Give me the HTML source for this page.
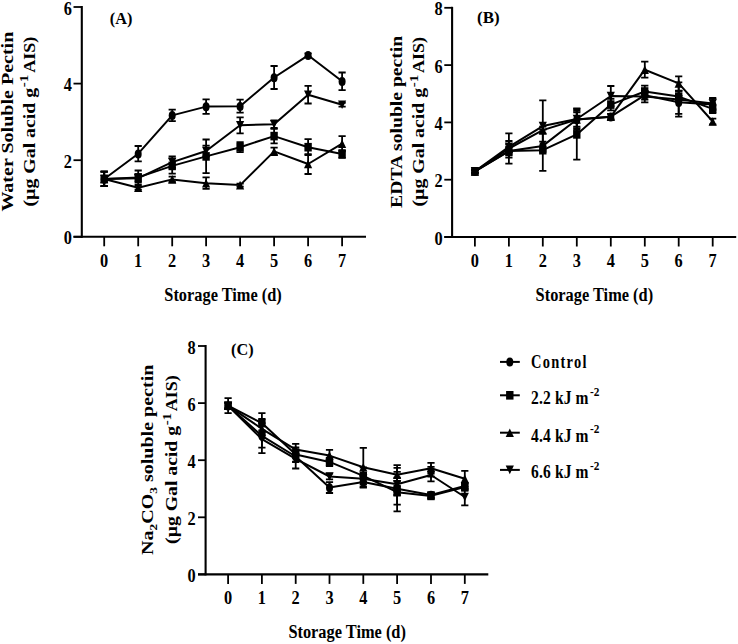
<!DOCTYPE html><html><head><meta charset="utf-8"><style>html,body{margin:0;padding:0;background:#fff;}svg{display:block}</style></head><body>
<svg width="738" height="644" viewBox="0 0 738 644" font-family='"Liberation Serif", serif' font-weight="bold">
<rect width="738" height="644" fill="#fff"/>
<g stroke="#000" stroke-width="2.1" fill="none" stroke-linecap="butt">
<path d="M81.8,6.0 V237.8"/>
<path d="M73.5,236.8 H366.0"/>
<path d="M73.5,236.8 H81.8" stroke-width="1.8"/>
<path d="M73.5,160.2 H81.8" stroke-width="1.8"/>
<path d="M73.5,83.6 H81.8" stroke-width="1.8"/>
<path d="M73.5,7.0 H81.8" stroke-width="1.8"/>
<path d="M104.2,236.8 V246.3" stroke-width="1.8"/>
<path d="M138.2,236.8 V246.3" stroke-width="1.8"/>
<path d="M172.2,236.8 V246.3" stroke-width="1.8"/>
<path d="M206.1,236.8 V246.3" stroke-width="1.8"/>
<path d="M240.1,236.8 V246.3" stroke-width="1.8"/>
<path d="M274.1,236.8 V246.3" stroke-width="1.8"/>
<path d="M308.1,236.8 V246.3" stroke-width="1.8"/>
<path d="M342.1,236.8 V246.3" stroke-width="1.8"/>
</g>
<g stroke="#000" stroke-width="2" fill="none" stroke-linejoin="round">
<polyline points="104.2,179.0 138.2,177.4 172.2,165.9 206.1,156.4 240.1,147.2 274.1,136.1 308.1,147.2 342.1,154.1"/>
<polyline points="104.2,179.0 138.2,178.2 172.2,162.1 206.1,151.0 240.1,125.3 274.1,124.2 308.1,94.7 342.1,104.7"/>
<polyline points="104.2,179.0 138.2,187.8 172.2,179.4 206.1,183.2 240.1,185.1 274.1,151.4 308.1,164.0 342.1,143.7"/>
<polyline points="104.2,179.0 138.2,153.7 172.2,115.4 206.1,106.6 240.1,106.2 274.1,77.5 308.1,55.3 342.1,81.3"/>
</g>
<g stroke="#000" stroke-width="1.8" fill="none">
<path d="M104.2,171.7 V186.2 M100.6,171.7 H107.8 M100.6,186.2 H107.8"/>
<path d="M138.2,170.5 V184.3 M134.6,170.5 H141.8 M134.6,184.3 H141.8"/>
<path d="M172.2,158.3 V173.6 M168.6,158.3 H175.8 M168.6,173.6 H175.8"/>
<path d="M206.1,139.5 V173.2 M202.5,139.5 H209.7 M202.5,173.2 H209.7"/>
<path d="M240.1,142.2 V152.2 M236.5,142.2 H243.7 M236.5,152.2 H243.7"/>
<path d="M274.1,128.8 V143.3 M270.5,128.8 H277.7 M270.5,143.3 H277.7"/>
<path d="M308.1,139.1 V155.2 M304.5,139.1 H311.7 M304.5,155.2 H311.7"/>
<path d="M342.1,150.2 V157.9 M338.5,150.2 H345.7 M338.5,157.9 H345.7"/>
<path d="M104.2,171.7 V186.2 M100.6,171.7 H107.8 M100.6,186.2 H107.8"/>
<path d="M138.2,174.4 V182.0 M134.6,174.4 H141.8 M134.6,182.0 H141.8"/>
<path d="M172.2,156.4 V167.9 M168.6,156.4 H175.8 M168.6,167.9 H175.8"/>
<path d="M206.1,145.6 V156.4 M202.5,145.6 H209.7 M202.5,156.4 H209.7"/>
<path d="M240.1,117.3 V133.4 M236.5,117.3 H243.7 M236.5,133.4 H243.7"/>
<path d="M274.1,120.4 V128.0 M270.5,120.4 H277.7 M270.5,128.0 H277.7"/>
<path d="M308.1,85.9 V103.5 M304.5,85.9 H311.7 M304.5,103.5 H311.7"/>
<path d="M342.1,102.8 V106.6 M338.5,102.8 H345.7 M338.5,106.6 H345.7"/>
<path d="M104.2,171.7 V186.2 M100.6,171.7 H107.8 M100.6,186.2 H107.8"/>
<path d="M138.2,185.9 V189.7 M134.6,185.9 H141.8 M134.6,189.7 H141.8"/>
<path d="M172.2,176.7 V182.0 M168.6,176.7 H175.8 M168.6,182.0 H175.8"/>
<path d="M206.1,177.4 V188.9 M202.5,177.4 H209.7 M202.5,188.9 H209.7"/>
<path d="M240.1,183.6 V186.6 M236.5,183.6 H243.7 M236.5,186.6 H243.7"/>
<path d="M274.1,147.6 V155.2 M270.5,147.6 H277.7 M270.5,155.2 H277.7"/>
<path d="M308.1,154.1 V174.0 M304.5,154.1 H311.7 M304.5,174.0 H311.7"/>
<path d="M342.1,136.1 V151.4 M338.5,136.1 H345.7 M338.5,151.4 H345.7"/>
<path d="M104.2,171.7 V186.2 M100.6,171.7 H107.8 M100.6,186.2 H107.8"/>
<path d="M138.2,146.0 V161.3 M134.6,146.0 H141.8 M134.6,161.3 H141.8"/>
<path d="M172.2,109.6 V121.1 M168.6,109.6 H175.8 M168.6,121.1 H175.8"/>
<path d="M206.1,99.3 V113.9 M202.5,99.3 H209.7 M202.5,113.9 H209.7"/>
<path d="M240.1,99.7 V112.7 M236.5,99.7 H243.7 M236.5,112.7 H243.7"/>
<path d="M274.1,66.0 V89.0 M270.5,66.0 H277.7 M270.5,89.0 H277.7"/>
<path d="M308.1,53.3 V57.2 M304.5,53.3 H311.7 M304.5,57.2 H311.7"/>
<path d="M342.1,72.5 V90.1 M338.5,72.5 H345.7 M338.5,90.1 H345.7"/>
</g>
<g fill="#000">
<rect x="100.5" y="174.7" width="7.4" height="8.6"/>
<rect x="134.5" y="173.1" width="7.4" height="8.6"/>
<rect x="168.5" y="161.6" width="7.4" height="8.6"/>
<rect x="202.4" y="152.1" width="7.4" height="8.6"/>
<rect x="236.4" y="142.9" width="7.4" height="8.6"/>
<rect x="270.4" y="131.8" width="7.4" height="8.6"/>
<rect x="304.4" y="142.9" width="7.4" height="8.6"/>
<rect x="338.4" y="149.8" width="7.4" height="8.6"/>
<path d="M104.2,183.3 L108.3,174.7 L100.1,174.7Z"/>
<path d="M138.2,182.5 L142.3,173.9 L134.1,173.9Z"/>
<path d="M172.2,166.4 L176.3,157.8 L168.1,157.8Z"/>
<path d="M206.1,155.3 L210.2,146.7 L202.0,146.7Z"/>
<path d="M240.1,129.6 L244.2,121.0 L236.0,121.0Z"/>
<path d="M274.1,128.5 L278.2,119.9 L270.0,119.9Z"/>
<path d="M308.1,99.0 L312.2,90.4 L304.0,90.4Z"/>
<path d="M342.1,109.0 L346.2,100.4 L338.0,100.4Z"/>
<path d="M104.2,174.7 L108.3,183.3 L100.1,183.3Z"/>
<path d="M138.2,183.5 L142.3,192.1 L134.1,192.1Z"/>
<path d="M172.2,175.1 L176.3,183.7 L168.1,183.7Z"/>
<path d="M206.1,178.9 L210.2,187.5 L202.0,187.5Z"/>
<path d="M240.1,180.8 L244.2,189.4 L236.0,189.4Z"/>
<path d="M274.1,147.1 L278.2,155.7 L270.0,155.7Z"/>
<path d="M308.1,159.7 L312.2,168.3 L304.0,168.3Z"/>
<path d="M342.1,139.4 L346.2,148.0 L338.0,148.0Z"/>
<ellipse cx="104.2" cy="179.2" rx="3.5" ry="4.5"/>
<ellipse cx="138.2" cy="153.9" rx="3.5" ry="4.5"/>
<ellipse cx="172.2" cy="115.6" rx="3.5" ry="4.5"/>
<ellipse cx="206.1" cy="106.8" rx="3.5" ry="4.5"/>
<ellipse cx="240.1" cy="106.4" rx="3.5" ry="4.5"/>
<ellipse cx="274.1" cy="77.7" rx="3.5" ry="4.5"/>
<ellipse cx="308.1" cy="55.5" rx="3.5" ry="4.5"/>
<ellipse cx="342.1" cy="81.5" rx="3.5" ry="4.5"/>
</g>
<g font-size="19" text-anchor="middle">
<text transform="translate(104.2,266.5) scale(0.86,1)">0</text>
<text transform="translate(138.2,266.5) scale(0.86,1)">1</text>
<text transform="translate(172.2,266.5) scale(0.86,1)">2</text>
<text transform="translate(206.1,266.5) scale(0.86,1)">3</text>
<text transform="translate(240.1,266.5) scale(0.86,1)">4</text>
<text transform="translate(274.1,266.5) scale(0.86,1)">5</text>
<text transform="translate(308.1,266.5) scale(0.86,1)">6</text>
<text transform="translate(342.1,266.5) scale(0.86,1)">7</text>
</g>
<g font-size="19" text-anchor="end">
<text transform="translate(71.8,244.4) scale(0.86,1)">0</text>
<text transform="translate(71.8,167.8) scale(0.86,1)">2</text>
<text transform="translate(71.8,91.2) scale(0.86,1)">4</text>
<text transform="translate(71.8,14.6) scale(0.86,1)">6</text>
</g>
<g stroke="#000" stroke-width="2.1" fill="none" stroke-linecap="butt">
<path d="M452.1,6.8 V238.0"/>
<path d="M444.3,237.0 H736.2"/>
<path d="M444.3,237.0 H452.1" stroke-width="1.8"/>
<path d="M444.3,179.7 H452.1" stroke-width="1.8"/>
<path d="M444.3,122.4 H452.1" stroke-width="1.8"/>
<path d="M444.3,65.1 H452.1" stroke-width="1.8"/>
<path d="M444.3,7.8 H452.1" stroke-width="1.8"/>
<path d="M474.9,237.0 V246.5" stroke-width="1.8"/>
<path d="M508.9,237.0 V246.5" stroke-width="1.8"/>
<path d="M542.8,237.0 V246.5" stroke-width="1.8"/>
<path d="M576.8,237.0 V246.5" stroke-width="1.8"/>
<path d="M610.8,237.0 V246.5" stroke-width="1.8"/>
<path d="M644.8,237.0 V246.5" stroke-width="1.8"/>
<path d="M678.7,237.0 V246.5" stroke-width="1.8"/>
<path d="M712.7,237.0 V246.5" stroke-width="1.8"/>
</g>
<g stroke="#000" stroke-width="2" fill="none" stroke-linejoin="round">
<polyline points="474.9,171.4 508.9,151.1 542.8,145.9 576.8,119.5 610.8,116.7 644.8,95.2 678.7,102.3 712.7,104.6"/>
<polyline points="474.9,171.4 508.9,151.1 542.8,150.2 576.8,134.4 610.8,104.6 644.8,91.5 678.7,96.6 712.7,108.9"/>
<polyline points="474.9,171.4 508.9,148.5 542.8,130.1 576.8,119.5 610.8,116.7 644.8,69.7 678.7,83.4 712.7,121.5"/>
<polyline points="474.9,171.4 508.9,146.8 542.8,126.1 576.8,119.0 610.8,96.0 644.8,96.6 678.7,99.5 712.7,103.5"/>
</g>
<g stroke="#000" stroke-width="1.8" fill="none">
<path d="M474.9,170.0 V172.8 M471.3,170.0 H478.5 M471.3,172.8 H478.5"/>
<path d="M508.9,146.8 V155.3 M505.3,146.8 H512.5 M505.3,155.3 H512.5"/>
<path d="M542.8,141.6 V150.2 M539.2,141.6 H546.4 M539.2,150.2 H546.4"/>
<path d="M576.8,110.9 V128.1 M573.2,110.9 H580.4 M573.2,128.1 H580.4"/>
<path d="M610.8,113.8 V119.5 M607.2,113.8 H614.4 M607.2,119.5 H614.4"/>
<path d="M644.8,90.9 V99.5 M641.1,90.9 H648.4 M641.1,99.5 H648.4"/>
<path d="M678.7,90.9 V113.8 M675.1,90.9 H682.3 M675.1,113.8 H682.3"/>
<path d="M712.7,98.9 V110.4 M709.1,98.9 H716.3 M709.1,110.4 H716.3"/>
<path d="M474.9,170.0 V172.8 M471.3,170.0 H478.5 M471.3,172.8 H478.5"/>
<path d="M508.9,144.5 V157.6 M505.3,144.5 H512.5 M505.3,157.6 H512.5"/>
<path d="M542.8,129.6 V170.8 M539.2,129.6 H546.4 M539.2,170.8 H546.4"/>
<path d="M576.8,109.2 V159.6 M573.2,109.2 H580.4 M573.2,159.6 H580.4"/>
<path d="M610.8,98.9 V110.4 M607.2,98.9 H614.4 M607.2,110.4 H614.4"/>
<path d="M644.8,85.7 V97.2 M641.1,85.7 H648.4 M641.1,97.2 H648.4"/>
<path d="M678.7,90.9 V102.3 M675.1,90.9 H682.3 M675.1,102.3 H682.3"/>
<path d="M712.7,104.6 V113.2 M709.1,104.6 H716.3 M709.1,113.2 H716.3"/>
<path d="M474.9,170.0 V172.8 M471.3,170.0 H478.5 M471.3,172.8 H478.5"/>
<path d="M508.9,133.3 V163.7 M505.3,133.3 H512.5 M505.3,163.7 H512.5"/>
<path d="M542.8,126.7 V133.6 M539.2,126.7 H546.4 M539.2,133.6 H546.4"/>
<path d="M576.8,112.4 V126.7 M573.2,112.4 H580.4 M573.2,126.7 H580.4"/>
<path d="M610.8,113.8 V119.5 M607.2,113.8 H614.4 M607.2,119.5 H614.4"/>
<path d="M644.8,61.7 V77.7 M641.1,61.7 H648.4 M641.1,77.7 H648.4"/>
<path d="M678.7,76.3 V90.6 M675.1,76.3 H682.3 M675.1,90.6 H682.3"/>
<path d="M712.7,118.7 V124.4 M709.1,118.7 H716.3 M709.1,124.4 H716.3"/>
<path d="M474.9,170.0 V172.8 M471.3,170.0 H478.5 M471.3,172.8 H478.5"/>
<path d="M508.9,141.0 V152.5 M505.3,141.0 H512.5 M505.3,152.5 H512.5"/>
<path d="M542.8,100.3 V151.9 M539.2,100.3 H546.4 M539.2,151.9 H546.4"/>
<path d="M576.8,108.4 V129.6 M573.2,108.4 H580.4 M573.2,129.6 H580.4"/>
<path d="M610.8,86.0 V106.1 M607.2,86.0 H614.4 M607.2,106.1 H614.4"/>
<path d="M644.8,90.9 V102.3 M641.1,90.9 H648.4 M641.1,102.3 H648.4"/>
<path d="M678.7,82.3 V116.7 M675.1,82.3 H682.3 M675.1,116.7 H682.3"/>
<path d="M712.7,97.8 V109.2 M709.1,97.8 H716.3 M709.1,109.2 H716.3"/>
</g>
<g fill="#000">
<ellipse cx="474.9" cy="171.6" rx="3.5" ry="4.5"/>
<ellipse cx="508.9" cy="151.2" rx="3.5" ry="4.5"/>
<ellipse cx="542.8" cy="146.1" rx="3.5" ry="4.5"/>
<ellipse cx="576.8" cy="119.7" rx="3.5" ry="4.5"/>
<ellipse cx="610.8" cy="116.9" rx="3.5" ry="4.5"/>
<ellipse cx="644.8" cy="95.4" rx="3.5" ry="4.5"/>
<ellipse cx="678.7" cy="102.5" rx="3.5" ry="4.5"/>
<ellipse cx="712.7" cy="104.8" rx="3.5" ry="4.5"/>
<rect x="471.2" y="167.1" width="7.4" height="8.6"/>
<rect x="505.2" y="146.8" width="7.4" height="8.6"/>
<rect x="539.1" y="145.9" width="7.4" height="8.6"/>
<rect x="573.1" y="130.1" width="7.4" height="8.6"/>
<rect x="607.1" y="100.3" width="7.4" height="8.6"/>
<rect x="641.0" y="87.2" width="7.4" height="8.6"/>
<rect x="675.0" y="92.3" width="7.4" height="8.6"/>
<rect x="709.0" y="104.6" width="7.4" height="8.6"/>
<path d="M474.9,167.1 L479.0,175.7 L470.8,175.7Z"/>
<path d="M508.9,144.2 L513.0,152.8 L504.8,152.8Z"/>
<path d="M542.8,125.8 L546.9,134.4 L538.7,134.4Z"/>
<path d="M576.8,115.2 L580.9,123.8 L572.7,123.8Z"/>
<path d="M610.8,112.4 L614.9,121.0 L606.7,121.0Z"/>
<path d="M644.8,65.4 L648.9,74.0 L640.6,74.0Z"/>
<path d="M678.7,79.1 L682.8,87.7 L674.6,87.7Z"/>
<path d="M712.7,117.2 L716.8,125.8 L708.6,125.8Z"/>
<path d="M474.9,175.7 L479.0,167.1 L470.8,167.1Z"/>
<path d="M508.9,151.1 L513.0,142.5 L504.8,142.5Z"/>
<path d="M542.8,130.4 L546.9,121.8 L538.7,121.8Z"/>
<path d="M576.8,123.3 L580.9,114.7 L572.7,114.7Z"/>
<path d="M610.8,100.3 L614.9,91.7 L606.7,91.7Z"/>
<path d="M644.8,100.9 L648.9,92.3 L640.6,92.3Z"/>
<path d="M678.7,103.8 L682.8,95.2 L674.6,95.2Z"/>
<path d="M712.7,107.8 L716.8,99.2 L708.6,99.2Z"/>
</g>
<g font-size="19" text-anchor="middle">
<text transform="translate(474.9,266.5) scale(0.86,1)">0</text>
<text transform="translate(508.9,266.5) scale(0.86,1)">1</text>
<text transform="translate(542.8,266.5) scale(0.86,1)">2</text>
<text transform="translate(576.8,266.5) scale(0.86,1)">3</text>
<text transform="translate(610.8,266.5) scale(0.86,1)">4</text>
<text transform="translate(644.8,266.5) scale(0.86,1)">5</text>
<text transform="translate(678.7,266.5) scale(0.86,1)">6</text>
<text transform="translate(712.7,266.5) scale(0.86,1)">7</text>
</g>
<g font-size="19" text-anchor="end">
<text transform="translate(442.6,244.6) scale(0.86,1)">0</text>
<text transform="translate(442.6,187.3) scale(0.86,1)">2</text>
<text transform="translate(442.6,130.0) scale(0.86,1)">4</text>
<text transform="translate(442.6,72.7) scale(0.86,1)">6</text>
<text transform="translate(442.6,15.4) scale(0.86,1)">8</text>
</g>
<g stroke="#000" stroke-width="2.1" fill="none" stroke-linecap="butt">
<path d="M205.6,345.0 V575.4"/>
<path d="M198.0,574.4 H488.3"/>
<path d="M198.0,574.4 H205.6" stroke-width="1.8"/>
<path d="M198.0,517.3 H205.6" stroke-width="1.8"/>
<path d="M198.0,460.2 H205.6" stroke-width="1.8"/>
<path d="M198.0,403.1 H205.6" stroke-width="1.8"/>
<path d="M198.0,346.0 H205.6" stroke-width="1.8"/>
<path d="M228.1,574.4 V583.9" stroke-width="1.8"/>
<path d="M261.9,574.4 V583.9" stroke-width="1.8"/>
<path d="M295.7,574.4 V583.9" stroke-width="1.8"/>
<path d="M329.5,574.4 V583.9" stroke-width="1.8"/>
<path d="M363.3,574.4 V583.9" stroke-width="1.8"/>
<path d="M397.1,574.4 V583.9" stroke-width="1.8"/>
<path d="M431.0,574.4 V583.9" stroke-width="1.8"/>
<path d="M464.8,574.4 V583.9" stroke-width="1.8"/>
</g>
<g stroke="#000" stroke-width="2" fill="none" stroke-linejoin="round">
<polyline points="228.1,405.7 261.9,423.1 295.7,454.5 329.5,461.9 363.3,475.9 397.1,492.2 431.0,495.9 464.8,487.0"/>
<polyline points="228.1,405.7 261.9,428.8 295.7,449.6 329.5,455.6 363.3,467.3 397.1,474.8 431.0,468.2 464.8,478.8"/>
<polyline points="228.1,405.7 261.9,439.1 295.7,458.8 329.5,476.5 363.3,478.8 397.1,484.2 431.0,475.0 464.8,497.0"/>
<polyline points="228.1,405.7 261.9,435.9 295.7,456.5 329.5,487.6 363.3,481.9 397.1,488.8 431.0,495.0 464.8,485.9"/>
</g>
<g stroke="#000" stroke-width="1.8" fill="none">
<path d="M228.1,398.2 V413.1 M224.5,398.2 H231.7 M224.5,413.1 H231.7"/>
<path d="M261.9,413.1 V433.1 M258.3,413.1 H265.5 M258.3,433.1 H265.5"/>
<path d="M295.7,447.4 V461.6 M292.1,447.4 H299.3 M292.1,461.6 H299.3"/>
<path d="M329.5,457.6 V466.2 M325.9,457.6 H333.1 M325.9,466.2 H333.1"/>
<path d="M363.3,467.3 V484.5 M359.7,467.3 H366.9 M359.7,484.5 H366.9"/>
<path d="M397.1,489.3 V495.0 M393.5,489.3 H400.8 M393.5,495.0 H400.8"/>
<path d="M431.0,493.0 V498.7 M427.4,493.0 H434.6 M427.4,498.7 H434.6"/>
<path d="M464.8,483.6 V490.5 M461.2,483.6 H468.4 M461.2,490.5 H468.4"/>
<path d="M228.1,402.8 V408.5 M224.5,402.8 H231.7 M224.5,408.5 H231.7"/>
<path d="M261.9,423.1 V434.5 M258.3,423.1 H265.5 M258.3,434.5 H265.5"/>
<path d="M295.7,443.9 V455.3 M292.1,443.9 H299.3 M292.1,455.3 H299.3"/>
<path d="M329.5,449.9 V461.3 M325.9,449.9 H333.1 M325.9,461.3 H333.1"/>
<path d="M363.3,447.9 V486.8 M359.7,447.9 H366.9 M359.7,486.8 H366.9"/>
<path d="M397.1,471.9 V477.6 M393.5,471.9 H400.8 M393.5,477.6 H400.8"/>
<path d="M431.0,466.8 V469.6 M427.4,466.8 H434.6 M427.4,469.6 H434.6"/>
<path d="M464.8,470.8 V486.8 M461.2,470.8 H468.4 M461.2,486.8 H468.4"/>
<path d="M228.1,402.8 V408.5 M224.5,402.8 H231.7 M224.5,408.5 H231.7"/>
<path d="M261.9,430.5 V447.6 M258.3,430.5 H265.5 M258.3,447.6 H265.5"/>
<path d="M295.7,449.1 V468.5 M292.1,449.1 H299.3 M292.1,468.5 H299.3"/>
<path d="M329.5,473.6 V479.3 M325.9,473.6 H333.1 M325.9,479.3 H333.1"/>
<path d="M363.3,475.9 V481.6 M359.7,475.9 H366.9 M359.7,481.6 H366.9"/>
<path d="M397.1,481.3 V487.0 M393.5,481.3 H400.8 M393.5,487.0 H400.8"/>
<path d="M431.0,473.6 V476.5 M427.4,473.6 H434.6 M427.4,476.5 H434.6"/>
<path d="M464.8,488.8 V505.3 M461.2,488.8 H468.4 M461.2,505.3 H468.4"/>
<path d="M228.1,402.8 V408.5 M224.5,402.8 H231.7 M224.5,408.5 H231.7"/>
<path d="M261.9,418.8 V453.1 M258.3,418.8 H265.5 M258.3,453.1 H265.5"/>
<path d="M295.7,450.8 V462.2 M292.1,450.8 H299.3 M292.1,462.2 H299.3"/>
<path d="M329.5,482.2 V493.0 M325.9,482.2 H333.1 M325.9,493.0 H333.1"/>
<path d="M363.3,476.2 V487.6 M359.7,476.2 H366.9 M359.7,487.6 H366.9"/>
<path d="M397.1,485.9 V491.6 M393.5,485.9 H400.8 M393.5,491.6 H400.8"/>
<path d="M431.0,492.2 V497.9 M427.4,492.2 H434.6 M427.4,497.9 H434.6"/>
<path d="M464.8,483.0 V488.8 M461.2,483.0 H468.4 M461.2,488.8 H468.4"/>
<path d="M397.1,465.1 V511.3 M393.5,465.1 H400.8 M393.5,511.3 H400.8"/>
<path d="M397.1,467.9 V504.7 M393.5,467.9 H400.8 M393.5,504.7 H400.8"/>
<path d="M431.0,462.8 V481.3 M427.4,462.8 H434.6 M427.4,481.3 H434.6"/>
</g>
<g fill="#000">
<rect x="224.4" y="401.4" width="7.4" height="8.6"/>
<rect x="258.2" y="418.8" width="7.4" height="8.6"/>
<rect x="292.0" y="450.2" width="7.4" height="8.6"/>
<rect x="325.8" y="457.6" width="7.4" height="8.6"/>
<rect x="359.6" y="471.6" width="7.4" height="8.6"/>
<rect x="393.4" y="487.9" width="7.4" height="8.6"/>
<rect x="427.3" y="491.6" width="7.4" height="8.6"/>
<rect x="461.1" y="482.7" width="7.4" height="8.6"/>
<path d="M228.1,401.4 L232.2,410.0 L224.0,410.0Z"/>
<path d="M261.9,424.5 L266.0,433.1 L257.8,433.1Z"/>
<path d="M295.7,445.3 L299.8,453.9 L291.6,453.9Z"/>
<path d="M329.5,451.3 L333.6,459.9 L325.4,459.9Z"/>
<path d="M363.3,463.0 L367.4,471.6 L359.2,471.6Z"/>
<path d="M397.1,470.5 L401.2,479.1 L393.0,479.1Z"/>
<path d="M431.0,463.9 L435.1,472.5 L426.9,472.5Z"/>
<path d="M464.8,474.5 L468.9,483.1 L460.7,483.1Z"/>
<path d="M228.1,410.0 L232.2,401.4 L224.0,401.4Z"/>
<path d="M261.9,443.4 L266.0,434.8 L257.8,434.8Z"/>
<path d="M295.7,463.1 L299.8,454.5 L291.6,454.5Z"/>
<path d="M329.5,480.8 L333.6,472.2 L325.4,472.2Z"/>
<path d="M363.3,483.1 L367.4,474.5 L359.2,474.5Z"/>
<path d="M397.1,488.5 L401.2,479.9 L393.0,479.9Z"/>
<path d="M431.0,479.3 L435.1,470.7 L426.9,470.7Z"/>
<path d="M464.8,501.3 L468.9,492.7 L460.7,492.7Z"/>
<ellipse cx="228.1" cy="405.9" rx="3.5" ry="4.5"/>
<ellipse cx="261.9" cy="436.1" rx="3.5" ry="4.5"/>
<ellipse cx="295.7" cy="456.7" rx="3.5" ry="4.5"/>
<ellipse cx="329.5" cy="487.8" rx="3.5" ry="4.5"/>
<ellipse cx="363.3" cy="482.1" rx="3.5" ry="4.5"/>
<ellipse cx="397.1" cy="488.9" rx="3.5" ry="4.5"/>
<ellipse cx="431.0" cy="495.2" rx="3.5" ry="4.5"/>
<ellipse cx="464.8" cy="486.1" rx="3.5" ry="4.5"/>
</g>
<g font-size="19" text-anchor="middle">
<text transform="translate(228.1,604.0) scale(0.86,1)">0</text>
<text transform="translate(261.9,604.0) scale(0.86,1)">1</text>
<text transform="translate(295.7,604.0) scale(0.86,1)">2</text>
<text transform="translate(329.5,604.0) scale(0.86,1)">3</text>
<text transform="translate(363.3,604.0) scale(0.86,1)">4</text>
<text transform="translate(397.1,604.0) scale(0.86,1)">5</text>
<text transform="translate(431.0,604.0) scale(0.86,1)">6</text>
<text transform="translate(464.8,604.0) scale(0.86,1)">7</text>
</g>
<g font-size="19" text-anchor="end">
<text transform="translate(195.6,582.0) scale(0.86,1)">0</text>
<text transform="translate(195.6,524.9) scale(0.86,1)">2</text>
<text transform="translate(195.6,467.8) scale(0.86,1)">4</text>
<text transform="translate(195.6,410.7) scale(0.86,1)">6</text>
<text transform="translate(195.6,353.6) scale(0.86,1)">8</text>
</g>
<text x="109.8" y="23.8" font-size="16.8" textLength="22.6" lengthAdjust="spacingAndGlyphs">(A)</text>
<text x="477" y="23.3" font-size="16.8" textLength="22.6" lengthAdjust="spacingAndGlyphs">(B)</text>
<text x="231.1" y="355.2" font-size="16.8" textLength="22.6" lengthAdjust="spacingAndGlyphs">(C)</text>
<text x="164.3" y="300.7" font-size="18.5" textLength="117.5" lengthAdjust="spacingAndGlyphs">Storage Time (d)</text>
<text x="535.6" y="300.9" font-size="18.5" textLength="117.5" lengthAdjust="spacingAndGlyphs">Storage Time (d)</text>
<text x="288.4" y="638.0" font-size="18.5" textLength="117.5" lengthAdjust="spacingAndGlyphs">Storage Time (d)</text>
<text transform="translate(12.6,211.6) rotate(-90)" font-size="16.5" textLength="179.9" lengthAdjust="spacingAndGlyphs">Water Soluble Pectin</text>
<text transform="translate(34.6,206.6) rotate(-90)" font-size="16.5" textLength="132.00160000000002" lengthAdjust="spacingAndGlyphs">(µg Gal acid g<tspan font-size="12.5" dy="-6.5" dx="0.5">-1</tspan></text>
<text transform="translate(34.6,72.81679999999997) rotate(-90)" font-size="16.5" textLength="36.123200000000004" lengthAdjust="spacingAndGlyphs">AIS)</text>
<text transform="translate(401.9,207.9) rotate(-90)" font-size="16.5" textLength="172.1" lengthAdjust="spacingAndGlyphs">EDTA soluble pectin</text>
<text transform="translate(424.1,206.5) rotate(-90)" font-size="16.5" textLength="131.767" lengthAdjust="spacingAndGlyphs">(µg Gal acid g<tspan font-size="12.5" dy="-6.5" dx="0.5">-1</tspan></text>
<text transform="translate(424.1,72.95349999999999) rotate(-90)" font-size="16.5" textLength="36.059" lengthAdjust="spacingAndGlyphs">AIS)</text>
<text transform="translate(152.7,555.0) rotate(-90)" font-size="16.5" textLength="190.4" lengthAdjust="spacingAndGlyphs">Na<tspan font-size="11" dy="4">2</tspan><tspan dy="-4">CO</tspan><tspan font-size="11" dy="4">3</tspan><tspan dy="-4"> soluble pectin</tspan></text>
<text transform="translate(177.2,543.9) rotate(-90)" font-size="16.5" textLength="130.985" lengthAdjust="spacingAndGlyphs">(µg Gal acid g<tspan font-size="12.5" dy="-6.5" dx="0.5">-1</tspan></text>
<text transform="translate(177.2,411.1424999999999) rotate(-90)" font-size="16.5" textLength="35.845" lengthAdjust="spacingAndGlyphs">AIS)</text>
<g>
<path d="M500,361.9 H519.8" stroke="#000" stroke-width="2"/>
<ellipse cx="509.8" cy="362.1" rx="3.5" ry="4.5"/>
<text transform="translate(531,367.9) scale(0.78,1)" font-size="18.5" textLength="71.2" lengthAdjust="spacing">Control</text>
<path d="M500,395.3 H519.8" stroke="#000" stroke-width="2"/>
<rect x="506.1" y="391.0" width="7.4" height="8.6"/>
<text transform="translate(531,404.0) scale(0.84,1)" font-size="18.5"><tspan textLength="68.5" lengthAdjust="spacing">2.2 kJ m</tspan><tspan font-size="13.5" dx="1.5" dy="-8.5">-2</tspan></text>
<path d="M500,432.7 H519.8" stroke="#000" stroke-width="2"/>
<path d="M509.8,428.4 L513.9,437.0 L505.7,437.0Z"/>
<text transform="translate(531,441.6) scale(0.84,1)" font-size="18.5"><tspan textLength="68.5" lengthAdjust="spacing">4.4 kJ m</tspan><tspan font-size="13.5" dx="1.5" dy="-8.5">-2</tspan></text>
<path d="M500,469.9 H519.8" stroke="#000" stroke-width="2"/>
<path d="M509.8,474.2 L513.9,465.6 L505.7,465.6Z"/>
<text transform="translate(531,478.1) scale(0.84,1)" font-size="18.5"><tspan textLength="68.5" lengthAdjust="spacing">6.6 kJ m</tspan><tspan font-size="13.5" dx="1.5" dy="-8.5">-2</tspan></text>
</g>
</svg></body></html>
